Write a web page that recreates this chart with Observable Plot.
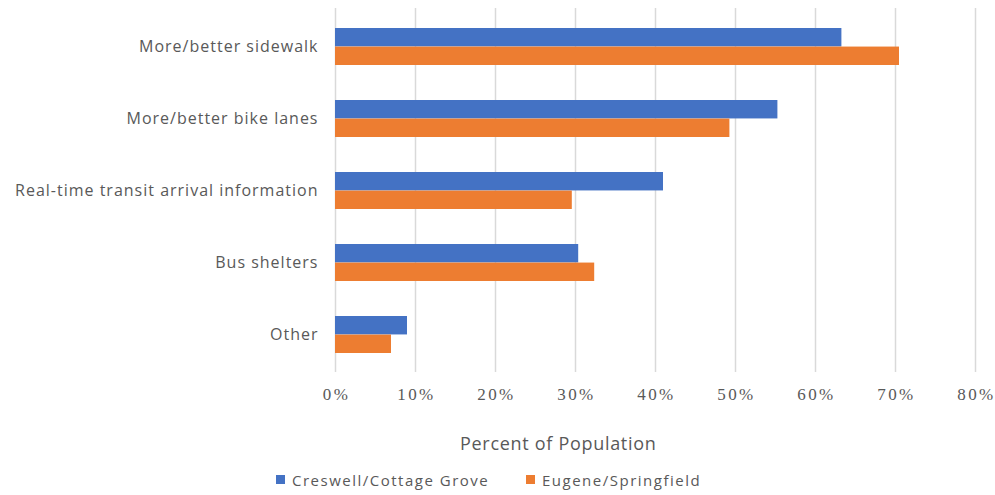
<!DOCTYPE html>
<html>
<head>
<meta charset="utf-8">
<script src="https://cdn.jsdelivr.net/npm/d3@7"></script>
<script src="https://cdn.jsdelivr.net/npm/@observablehq/plot@0.6"></script>
<style>
  body { margin: 0; background: #fff; }
  #wrap { position: relative; width: 995px; height: 495px; }
  #xtitle { position: absolute; left: 460px; top: 431px; font: 18px "Open Sans", sans-serif; color: #595959; white-space: nowrap; letter-spacing: 0.7px; }
  #legend { position: absolute; left: 276px; top: 470px; font: 15px "Open Sans", sans-serif; color: #595959; white-space: nowrap; letter-spacing: 1.5px; }
  #legend span.item { position: absolute; top: 0; }
  #legend i { display: inline-block; width: 9px; height: 9px; margin-right: 7px; vertical-align: 2px; }
  g[aria-label="x-axis tick label"] text { font-family: "Liberation Serif", serif; letter-spacing: 2.4px; }
  g[aria-label="y-axis tick label"] text { font-family: "Open Sans", sans-serif; letter-spacing: 1px; }
</style>
</head>
<body>
<div id="wrap">
  <div id="chart"></div>
  <div id="xtitle">Percent of Population</div>
  <div id="legend"></div>
</div>
<script>
const categories = [
  "More/better sidewalk",
  "More/better bike lanes",
  "Real-time transit arrival information",
  "Bus shelters",
  "Other"
];
const seriesNames = ["Creswell/Cottage Grove", "Eugene/Springfield"];
const creswell = [0.633, 0.553, 0.410, 0.304, 0.090];
const eugene   = [0.705, 0.493, 0.296, 0.324, 0.070];
const xTicks = [0, 0.1, 0.2, 0.3, 0.4, 0.5, 0.6, 0.7, 0.8];
const colors = ["#4472C4", "#ED7D31"];

const creswellRows = categories.map((c, i) => ({category: c, value: creswell[i]}));
const eugeneRows = categories.map((c, i) => ({category: c, value: eugene[i]}));

// Layout: each category band holds two stacked bars (first series on top).
const W = 995, H = 410, mTop = 8, mBottom = 38, bandPad = 0.49;
const bandH = (H - mTop - mBottom) / categories.length * (1 - bandPad);
const half = bandH / 2;

const chart = Plot.plot({
  width: W,
  height: H,
  marginLeft: 335,
  marginRight: 20,
  marginTop: mTop,
  marginBottom: mBottom,
  x: {domain: [0, 0.8], axis: null},
  y: {domain: categories, paddingInner: bandPad, paddingOuter: bandPad / 2, axis: null, label: null},
  marks: [
    Plot.ruleX(xTicks, {stroke: "#d9d9d9", strokeWidth: 1.5}),
    Plot.barX(creswellRows, {y: "category", x: "value", fill: colors[0], insetBottom: half}),
    Plot.barX(eugeneRows, {y: "category", x: "value", fill: colors[1], insetTop: half}),
    Plot.axisX(xTicks, {
      tickSize: 0, tickPadding: 15, label: null,
      tickFormat: d3.format(".0%"),
      fontSize: 17, fill: "#595959", dx: 1
    }),
    Plot.axisY({
      anchor: "left",
      tickSize: 0, tickPadding: 17, label: null,
      fontSize: 16, fill: "#595959"
    })
  ]
});
document.getElementById("chart").appendChild(chart);

const legend = document.getElementById("legend");
const offsets = [0, 250];
seriesNames.forEach((name, i) => {
  const s = document.createElement("span");
  s.className = "item";
  s.style.left = offsets[i] + "px";
  s.innerHTML = `<i style="background:${colors[i]}"></i>${name}`;
  legend.appendChild(s);
});
</script>
</body>
</html>
